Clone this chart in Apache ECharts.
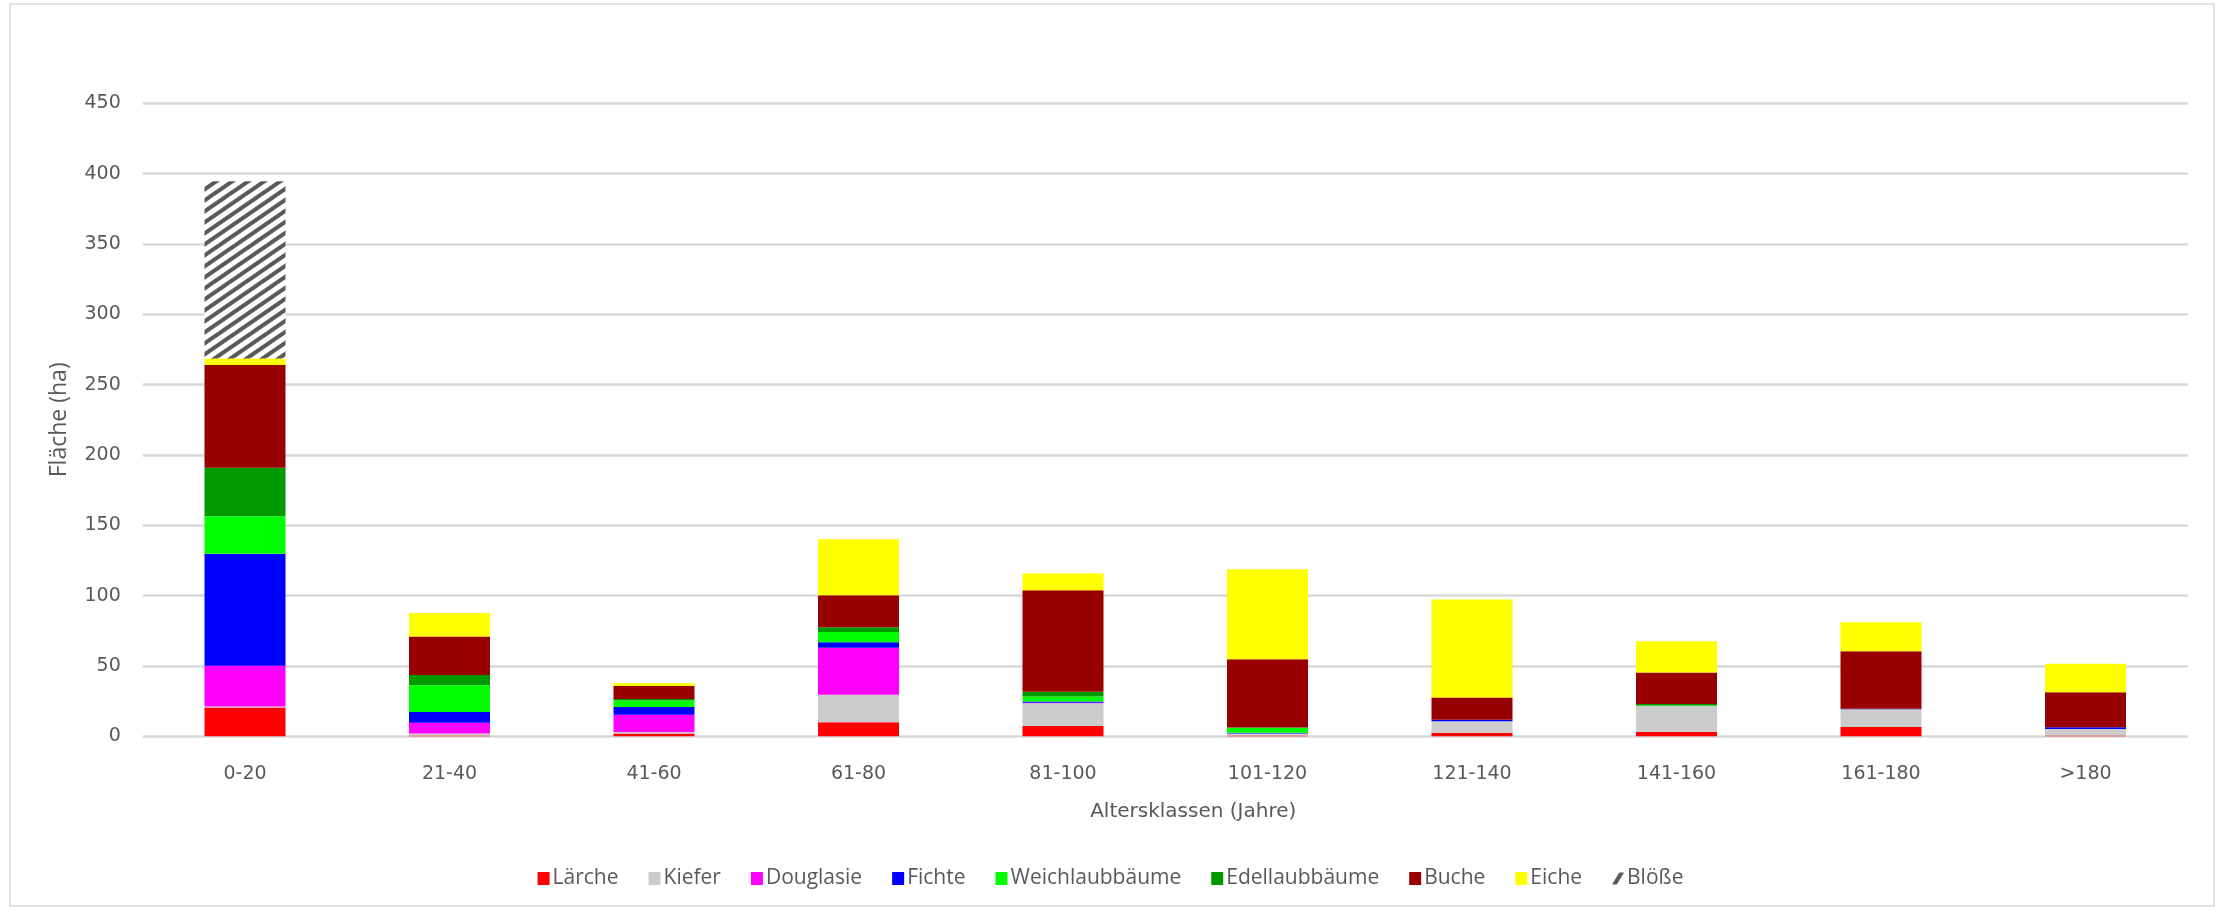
<!DOCTYPE html>
<html><head><meta charset="utf-8">
<script src="https://cdn.jsdelivr.net/npm/echarts@6/dist/echarts.min.js"></script>
<style>html,body{margin:0;padding:0;background:#fff}#c{width:2221px;height:910px}</style>
</head><body><div id="c"></div>
<script>
const categories = ['0-20','21-40','41-60','61-80','81-100','101-120','121-140','141-160','161-180','>180'];
const laerche   = [20.4, 0.6, 2.0, 10.0, 7.3, 0.5, 2.6, 3.3, 6.6, 0.5];
const kiefer    = [0.8, 1.4, 1.0, 19.6, 16.2, 1.5, 8.1, 18.3, 12.6, 4.7];
const douglasie = [29.0, 7.7, 12.4, 33.4, 0.3, 0, 0, 0, 0, 0];
const fichte    = [79.5, 7.6, 5.5, 3.8, 0.9, 0.5, 1.0, 0, 0.3, 1.2];
const weichlaub = [26.7, 19.0, 4.5, 7.4, 3.6, 3.5, 0, 0.3, 0, 0];
const edellaub  = [34.5, 7.3, 1.1, 3.3, 3.3, 0.3, 0, 1.0, 0, 0];
const buche     = [73.0, 27.3, 9.3, 22.8, 72.3, 48.5, 15.8, 22.4, 41.0, 25.0];
const eiche     = [4.6, 16.8, 1.9, 39.8, 11.8, 64.0, 69.7, 22.3, 20.6, 20.2];
const bloesse   = [126.0, 0, 0, 0, 0, 0, 0, 0, 0, 0];
const yTicks = {min: 0, max: 450, interval: 50};

const seriesDefs = [
  ['Lärche', laerche, '#FF0000'],
  ['Kiefer', kiefer, '#CCCCCC'],
  ['Douglasie', douglasie, '#FF00FF'],
  ['Fichte', fichte, '#0000FF'],
  ['Weichlaubbäume', weichlaub, '#00FF00'],
  ['Edellaubbäume', edellaub, '#009900'],
  ['Buche', buche, '#990000'],
  ['Eiche', eiche, '#FFFF00']
];

// hatch pattern for Blöße (seamless diagonal stripes)
const pc = document.createElement('canvas');
const pw = 16, ph = 11;
pc.width = pw; pc.height = ph;
const g = pc.getContext('2d');
g.fillStyle = '#fff'; g.fillRect(0,0,pw,ph);
g.strokeStyle = '#5a5a5a'; g.lineWidth = 4.0;
for (const dx of [-pw, 0, pw]) {
  g.beginPath(); g.moveTo(dx - pw, 2 * ph); g.lineTo(dx + 2 * pw, -ph); g.stroke();
}

const series = seriesDefs.map(([name, data, color]) => ({
  name, type: 'bar', stack: 'total', data, barWidth: 81,
  itemStyle: {color}, emphasis: {disabled: true}
}));
series.push({
  name: 'Blöße', type: 'bar', stack: 'total', data: bloesse, barWidth: 81,
  itemStyle: {color: {image: pc, repeat: 'repeat'}}, emphasis: {disabled: true}
});

const legendData = seriesDefs.map(s => ({name: s[0], icon: 'rect'}));
legendData.push({name: 'Blöße', icon: 'path://M6,0 L10,0 L4,10 L0,10 Z', itemStyle: {color: '#595959'}});

const chart = echarts.init(document.getElementById('c'), null, {renderer: 'canvas'});
chart.setOption({
  animation: false,
  backgroundColor: '#fff',
  graphic: [{type: 'rect', shape: {x: 10, y: 4, width: 2204, height: 902}, style: {fill: 'none', stroke: '#d9d9d9', lineWidth: 1.5}, silent: true}],
  grid: {left: 142.75, right: 33.25, top: 103.3, bottom: 173.7},
  legend: {
    data: legendData, top: 863, left: 'center', itemWidth: 12, itemHeight: 13, itemGap: 30,
    textStyle: {fontFamily: '"Liberation Sans Narrow", "Open Sans", sans-serif', fontSize: 21, color: '#595959', padding: [0,0,0,-2]}
  },
  xAxis: {
    type: 'category', data: categories,
    axisLine: {show: false}, axisTick: {show: false},
    axisLabel: {fontFamily: '"DejaVu Sans", sans-serif', fontSize: 19, color: '#595959', margin: 28},
    name: 'Altersklassen (Jahre)', nameLocation: 'middle', nameGap: 65,
    nameTextStyle: {fontFamily: '"DejaVu Sans", sans-serif', fontSize: 20, color: '#595959', padding: [0,0,0,56]}
  },
  yAxis: {
    type: 'value', min: yTicks.min, max: yTicks.max, interval: yTicks.interval,
    axisLine: {show: false}, axisTick: {show: false},
    splitLine: {lineStyle: {color: '#d9d9d9', width: 2.5}},
    axisLabel: {fontFamily: '"DejaVu Sans", sans-serif', fontSize: 19, color: '#595959', margin: 22},
    name: 'Fläche (ha)', nameLocation: 'middle', nameGap: 72, nameRotate: 90,
    nameTextStyle: {fontFamily: '"Liberation Sans Narrow", "Open Sans", sans-serif', fontSize: 23, color: '#595959'}
  },
  series
});
</script></body></html>
